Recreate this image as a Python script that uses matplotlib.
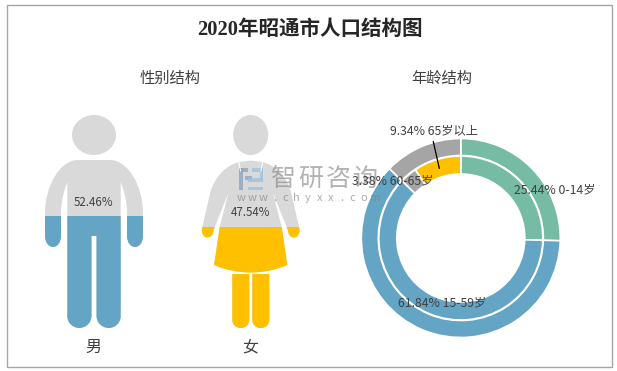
"""2020年昭通市人口结构图：人形填充图 + 双层环形图。"""

import matplotlib
matplotlib.use("Agg")
import matplotlib.pyplot as plt
import numpy as np
from matplotlib.patches import PathPatch, Rectangle
from matplotlib.path import Path

plt.rcParams["font.family"] = ["Noto Sans CJK SC", "DejaVu Sans"]

gender_labels = ["男", "女"]
gender_values = [52.46, 47.54]
age_labels = ["0-14岁", "15-59岁", "60-65岁", "65岁以上"]
age_values = [25.44, 61.84, 3.38, 9.34]
outer_values = [25.44, 61.84, 12.72]

GRAY = "#D9D9D9"
BLUE = "#64A4C4"
YELLOW = "#FFC000"
GREEN = "#76BCA4"
DARK_GRAY = "#A5A5A5"
TEXT = "#404040"
W, H = 617, 371


def half_outline(cx, segments):
    """由右半边轮廓生成左右对称的闭合路径。"""
    verts, codes = [], []
    for seg in segments:
        if len(seg) == 1:
            verts.append(seg[0])
            codes.append(Path.LINETO if verts[:-1] else Path.MOVETO)
        else:
            verts.extend(seg)
            codes.extend([Path.CURVE4] * 3)
    mirrored = [(2 * cx - x, y) for x, y in verts[::-1]]
    return Path(verts + mirrored[1:], codes + codes[:0:-1])


def head(cx, cy, rx, ry):
    circle = Path.unit_circle()
    return Path(circle.vertices * [rx, ry] + [cx, cy], circle.codes)


def round_leg(x0, x1, y0, y1, r):
    k = 0.55 * r
    return Path(
        [(x0, y0), (x1, y0), (x1, y1 - r), (x1, y1 - r + k), (x1 - r + k, y1), (x1 - r, y1),
         (x0 + r, y1), (x0 + r - k, y1), (x0, y1 - r + k), (x0, y1 - r), (x0, y0), (x0, y0)],
        [Path.MOVETO, Path.LINETO, Path.LINETO, Path.CURVE4, Path.CURVE4, Path.CURVE4,
         Path.LINETO, Path.CURVE4, Path.CURVE4, Path.CURVE4, Path.LINETO, Path.CLOSEPOLY],
    )


def man_path():
    cx = 94.0
    body = half_outline(cx, [
        [(cx, 160)], [(110, 160)],
        [(128, 160), (143, 186), (143, 213)],
        [(143, 236)],
        [(143, 243), (139, 247), (135, 247)],
        [(131, 247), (127, 243), (127, 236)],
        [(127, 213)],
        [(127, 201), (124, 191), (120.7, 182)],
        [(120.7, 316)],
        [(120.7, 323), (115, 328), (108.7, 328)],
        [(102.5, 328), (96.5, 323), (96.5, 316)],
        [(96.5, 236)], [(cx, 236)],
    ])
    return Path.make_compound_path(head(cx, 135, 22, 20), body)


def woman_path():
    cx = 250.7
    body = half_outline(cx, [
        [(cx, 160.5)], [(262, 162)],
        [(276, 165), (287, 178), (291, 192)],
        [(299.3, 228)],
        [(300.5, 233), (298, 237.5), (293.8, 237.5)],
        [(290, 237.5), (288.3, 234), (287.8, 230)],
        [(273, 193)],
        [(281.7, 227)], [(287.3, 265)],
        [(276, 270), (263, 272.5), (cx, 272.5)],
    ])
    return Path.make_compound_path(
        head(cx, 135, 17.5, 20), body,
        round_leg(232.3, 249.3, 274, 328, 8),
        round_leg(252.3, 269.3, 274, 328, 8),
    )


def draw_person(ax, path, value, color, top=115, bottom=328):
    """灰色底图上按比例从下往上填色。"""
    ax.add_patch(PathPatch(path, fc=GRAY, ec="none"))
    level = bottom - (bottom - top) * value / 100
    filled = PathPatch(path, fc=color, ec="none")
    ax.add_patch(filled)
    clip = Rectangle((0, level), W, bottom - level + 2, transform=ax.transData)
    filled.set_clip_path(clip)


fig = plt.figure(figsize=(W / 100, H / 100), dpi=100, facecolor="white")

# 环形图单独一个坐标轴
cx, cy, half = 460.8, 238, 105
ax_pie = fig.add_axes([(cx - half) / W, 1 - (cy + half) / H, 2 * half / W, 2 * half / H])
ax_pie.pie(outer_values, radius=99.5 / half, startangle=90, counterclock=False,
           colors=[GREEN, BLUE, DARK_GRAY],
           wedgeprops={"width": 17 / half, "edgecolor": "white", "linewidth": 1.2})
ax_pie.pie(age_values, radius=82 / half, startangle=90, counterclock=False,
           colors=[GREEN, BLUE, DARK_GRAY, YELLOW],
           wedgeprops={"width": 18 / half, "edgecolor": "white", "linewidth": 1.2})
ax_pie.set_xlim(-1, 1)
ax_pie.set_ylim(-1, 1)

# 其余内容按像素坐标画在覆盖层上
ax = fig.add_axes([0, 0, 1, 1], zorder=5)
ax.set_xlim(0, W)
ax.set_ylim(H, 0)
ax.axis("off")
ax.patch.set_alpha(0)

ax.add_patch(Rectangle((7, 4.5), 605, 362.5, fc="none", ec="#A6A6A6", lw=1))

draw_person(ax, man_path(), gender_values[0], BLUE)
draw_person(ax, woman_path(), gender_values[1], YELLOW)
for xs in ([238.5, 240.5], [262.9, 260.9]):
    ax.plot(xs, [160, 171], color="white", lw=0.8)

ax.text(310, 29.5, "2020年昭通市人口结构图", ha="center", va="center", fontsize=14.8,
        fontweight="bold", color="#262626", family=["Liberation Serif", "Noto Sans CJK SC"])
ax.text(170, 78, "性别结构", ha="center", va="center", fontsize=11, color=TEXT)
ax.text(442, 78, "年龄结构", ha="center", va="center", fontsize=11, color=TEXT)

ax.text(93.5, 203, f"{gender_values[0]:.2f}%", ha="center", va="center", fontsize=8.3, color=TEXT)
ax.text(251, 213, f"{gender_values[1]:.2f}%", ha="center", va="center", fontsize=8.3, color=TEXT)
ax.text(93.5, 347, gender_labels[0], ha="center", va="center", fontsize=11.5, color=TEXT)
ax.text(250.5, 347, gender_labels[1], ha="center", va="center", fontsize=11.5, color=TEXT)

# 水印
ax.add_patch(Rectangle((239, 168), 9, 3.5, fc="#8EA0BC", ec="none", alpha=0.75))
ax.add_patch(Rectangle((239, 168), 3.5, 22, fc="#8EA0BC", ec="none", alpha=0.75))
ax.add_patch(Rectangle((245, 176), 7, 3.5, fc="#8EA0BC", ec="none", alpha=0.75))
ax.add_patch(Rectangle((252, 168), 11, 3.5, fc="#9EC3DE", ec="none", alpha=0.8))
ax.add_patch(Rectangle((259.5, 168), 3.5, 13, fc="#9EC3DE", ec="none", alpha=0.8))
ax.add_patch(Rectangle((248, 178), 15, 3.5, fc="#9EC3DE", ec="none", alpha=0.8))
ax.add_patch(Rectangle((248, 186.5), 15, 3.5, fc="#9EC3DE", ec="none", alpha=0.8))
for i, ch in enumerate("智研咨询"):
    ax.text(283 + i * 27.5, 179, ch, ha="center", va="center", fontsize=18, color="#808080", alpha=0.6)
for x, ch in zip(np.linspace(241, 375, 13), "www.chyxx.com"):
    ax.text(x, 198, ch, ha="center", va="center", fontsize=8, color="#808080", alpha=0.65)

# 环形图标签与引线
label_xy = [(554.3, 190), (441.7, 303), (392.3, 180.5), (434, 131)]
for (x, y), value, label in zip(label_xy, age_values, age_labels):
    ax.text(x, y, f"{value:.2f}% {label}", ha="center", va="center", fontsize=8.8, color=TEXT)
ax.plot([433.3, 439.3], [141.7, 168.3], color="black", lw=0.9)

fig.savefig("out.png", dpi=100)
